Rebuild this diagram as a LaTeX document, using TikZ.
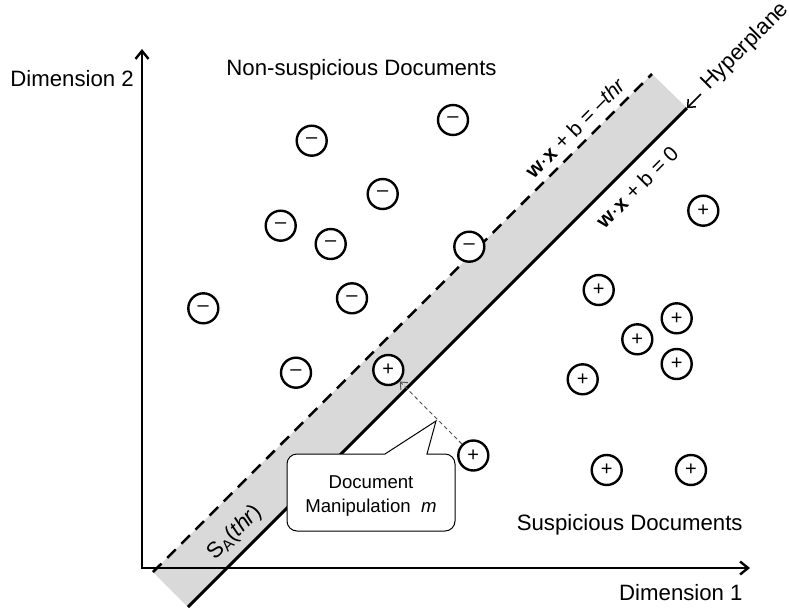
\documentclass[tikz,border=0pt]{standalone}
\usepackage{fontspec}
\setmainfont{Liberation Sans}
\usetikzlibrary{arrows.meta,calc}
\definecolor{bandgray}{RGB}{217,217,217}
\definecolor{hintgray}{RGB}{80,80,80}
\begin{document}
\begin{tikzpicture}[x=0.5pt,y=-0.5pt,
  doc/.style={circle,draw,fill=white,line width=1.2pt,minimum size=15pt,
    inner sep=0pt,font=\fontsize{10}{10}\selectfont},
  lbl/.style={font=\fontsize{11.1}{13}\selectfont,inner sep=0pt},
  eqlbl/.style={font=\fontsize{10.5}{12}\selectfont,inner sep=0pt,rotate=45},
  axisline/.style={line width=1.2pt,
    {Straight Barb[length=4pt,width=6.5pt]}-{Straight Barb[length=4pt,width=6.5pt]}},
  planeline/.style={line width=1.5pt},
  marginline/.style={line width=1.25pt,dash pattern=on 6pt off 4pt},
  moveline/.style={draw=hintgray,line width=0.45pt,dash pattern=on 2pt off 1.5pt,
    -{Straight Barb[length=3pt,width=5pt]}},
  calloutline/.style={line width=0.5pt,fill=white}
]
\useasboundingbox (0,0) rectangle (789,611);

% margin band between the hyperplane and the threshold line
\coordinate (d1) at (153,572);
\coordinate (d2) at (652,74);
\coordinate (h1) at (188,607);
\coordinate (h2) at (687,108);
\fill[bandgray] (d1) -- (d2) -- (h2) -- (h1) -- cycle;

% axes
\coordinate (ytop) at (142,49);
\coordinate (xend) at (750,568);
\draw[axisline] (ytop) |- (xend);

% hyperplane and threshold line
\draw[planeline] (h1) -- (h2);
\draw[marginline] (d1) -- (d2);

% axis and region labels
\node[lbl,anchor=base west] (dim2) at (10,86) {Dimension 2};
\node[lbl,anchor=base east] (dim1) at (743,600) {Dimension 1};
\node[lbl,anchor=base west] (nonsusp) at (226,75) {Non-suspicious Documents};
\node[lbl,anchor=base east] (susp) at (743,530) {Suspicious Documents};

% line labels
\node[eqlbl] (eqthr) at (575,128) {\textbf{w}·\textbf{x} + b = –\textit{thr}};
\node[eqlbl] (eqzero) at (637,187) {\textbf{w}·\textbf{x} + b = 0};
\node[lbl,rotate=45] (band) at (235,533) {S\textsubscript{A}(\textit{thr})};
\node[lbl,rotate=45,anchor=base west] (hyp) at (709,91) {Hyperplane};
\coordinate (hyptail) at (701,94);
\draw[line width=0.75pt,-{Straight Barb[length=3pt,width=5.5pt]}] (hyptail) -- (h2);

% non-suspicious documents
\node[doc] (n1) at (311.7,140.7) {–};
\node[doc] (n2) at (453,120) {–};
\node[doc] (n3) at (382.7,194) {–};
\node[doc] (n4) at (280.7,225.7) {–};
\node[doc] (n5) at (330.7,244) {–};
\node[doc] (n6) at (469.3,246.7) {–};
\node[doc] (n7) at (203.3,308.3) {–};
\node[doc] (n8) at (352,298.3) {–};
\node[doc] (n9) at (296,372.7) {–};

% suspicious documents
\node[doc] (p1) at (388.3,370) {+};
\node[doc] (p2) at (703.3,210.7) {+};
\node[doc] (p3) at (598.7,290) {+};
\node[doc] (p4) at (676.7,318.3) {+};
\node[doc] (p5) at (637.3,339.3) {+};
\node[doc] (p6) at (676.7,364) {+};
\node[doc] (p7) at (582.7,379.3) {+};
\node[doc] (p8) at (606.7,470) {+};
\node[doc] (p9) at (691,470) {+};
\node[doc] (p0) at (473.3,455.5) {+};

% manipulation of a suspicious document
\draw[moveline] (p0) -- (p1);

% callout
\coordinate (tip) at (436,421);
\draw[calloutline] (385,454) -- (tip) -- (427,454) -- (445,454)
  .. controls (450.5,454) and (455,458.5) .. (455,464) -- (455,521)
  .. controls (455,526.5) and (450.5,531) .. (445,531) -- (297,531)
  .. controls (291.5,531) and (287,526.5) .. (287,521) -- (287,464)
  .. controls (287,458.5) and (291.5,454) .. (297,454) -- cycle;
\node[align=center,inner sep=0pt,font=\fontsize{9.3}{11.8}\selectfont] (call) at (371,496)
  {Document\\Manipulation\ \ \textit{m}};
\end{tikzpicture}
\end{document}
